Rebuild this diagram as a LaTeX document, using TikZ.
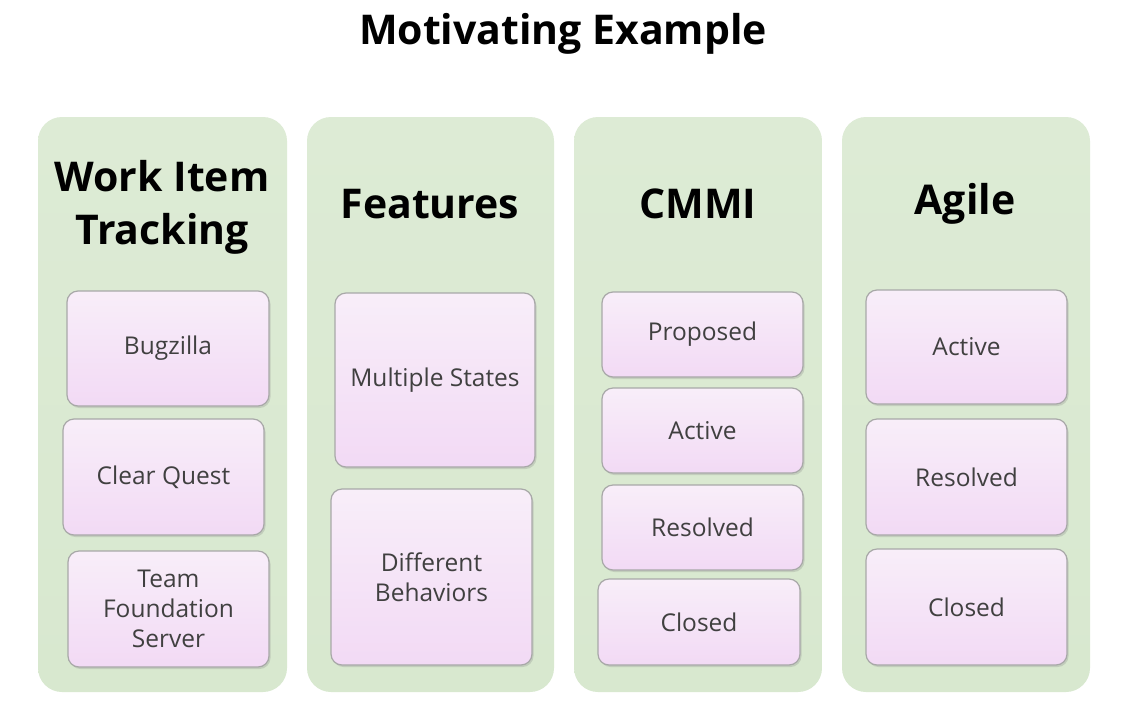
\documentclass[tikz,border=0pt]{standalone}
\usepackage{fontspec}
\setmainfont{Open Sans}
\usetikzlibrary{shadows}
\definecolor{colgreen}{HTML}{DDEBD5}
\definecolor{colgreenb}{HTML}{D8E8CF}
\definecolor{pinktop}{HTML}{F8EEF9}
\definecolor{pinkbot}{HTML}{F2DAF5}
\definecolor{itemborder}{HTML}{A8A8A8}
\definecolor{itemtext}{HTML}{404040}
\tikzset{
  column/.style={rounded corners=24pt, top color=colgreen, bottom color=colgreenb, draw=none, inner sep=0pt},
  item/.style={rounded corners=11pt, top color=pinktop, bottom color=pinkbot, draw=itemborder, line width=1.2pt,
    inner sep=0pt, align=center, text=itemtext, font=\fontsize{24.5}{30}\selectfont,
    drop shadow={shadow xshift=1.5pt, shadow yshift=-2pt, opacity=0.25}},
  heading/.style={font=\bfseries\fontsize{41}{53}\selectfont, align=center, text=black, inner sep=0pt},
}
\begin{document}
\begin{tikzpicture}[x=1pt,y=-1pt]
\useasboundingbox[fill=white] (0,0) rectangle (1146,710);
\node[font=\bfseries\fontsize{41}{46}\selectfont, inner sep=0pt] (title) at (563,34) {Motivating Example};

% columns
\node[column, minimum width=249pt, minimum height=575pt] (c1) at (162.5,404.5) {};
\node[column, minimum width=247pt, minimum height=575pt] (c2) at (430.5,404.5) {};
\node[column, minimum width=248pt, minimum height=575pt] (c3) at (698,404.5) {};
\node[column, minimum width=248pt, minimum height=575pt] (c4) at (966,404.5) {};

% headings
\node[heading] (h1) at (162,207) {Work Item\\Tracking};
\node[heading] (h2) at (430,204) {Features};
\node[heading] (h3) at (698,204) {CMMI};
\node[heading] (h4) at (965,204) {Agile};

% column 1
\node[item, minimum width=202pt, minimum height=115pt] (b1) at (168,348.5) {Bugzilla};
\node[item, minimum width=201pt, minimum height=116pt] (b2) at (163.5,477) {Clear Quest};
\node[item, minimum width=201pt, minimum height=116pt] (b3) at (168.5,609) {Team\\Foundation\\Server};

% column 2
\node[item, minimum width=200pt, minimum height=174pt] (f1) at (435,380) {Multiple States};
\node[item, minimum width=201pt, minimum height=176pt] (f2) at (431.5,577) {Different\\Behaviors};

% column 3
\node[item, minimum width=201pt, minimum height=85pt] (m1) at (702.5,334.5) {Proposed};
\node[item, minimum width=201pt, minimum height=85pt] (m2) at (702.5,430.5) {Active};
\node[item, minimum width=201pt, minimum height=85pt] (m3) at (702.5,527.5) {Resolved};
\node[item, minimum width=202pt, minimum height=86pt] (m4) at (699,622) {Closed};

% column 4
\node[item, minimum width=201pt, minimum height=114pt] (a1) at (966.5,347) {Active};
\node[item, minimum width=201pt, minimum height=116pt] (a2) at (966.5,477) {Resolved};
\node[item, minimum width=201pt, minimum height=116pt] (a3) at (966.5,607) {Closed};
\end{tikzpicture}
\end{document}
